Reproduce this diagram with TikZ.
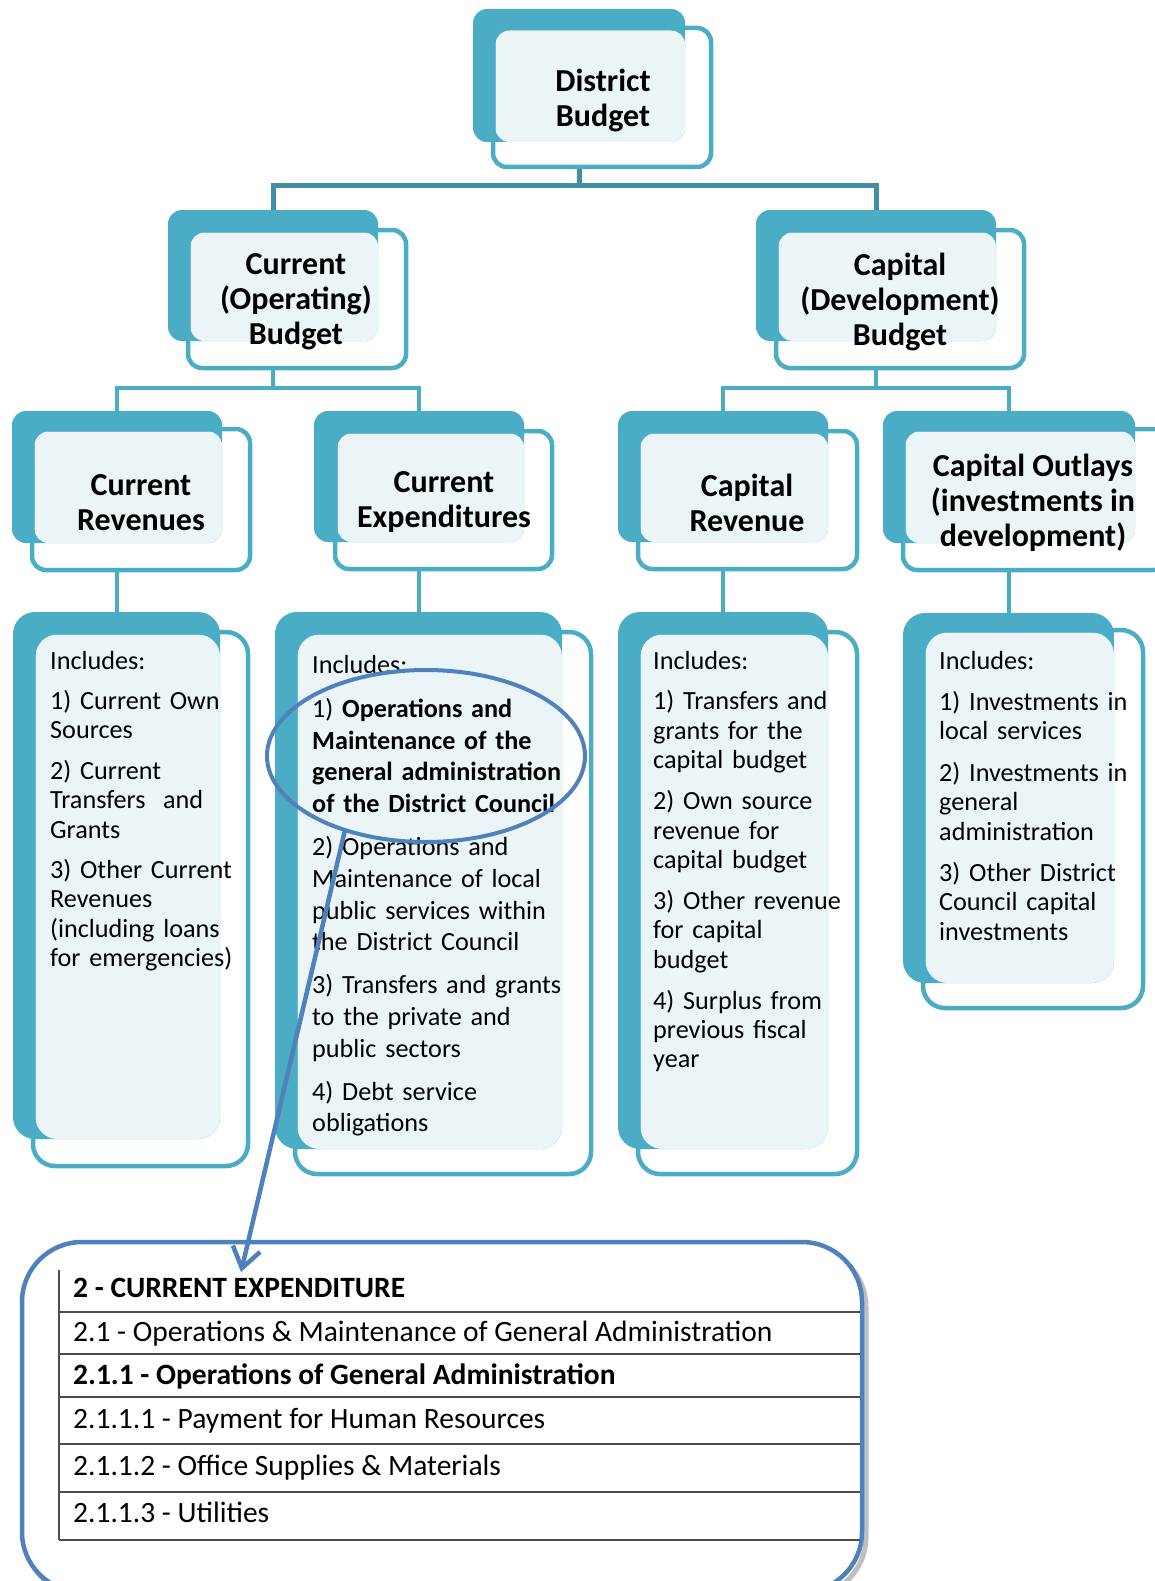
\documentclass[tikz,border=0pt]{standalone}
\usepackage{fontspec}
\setmainfont{Carlito}
\usetikzlibrary{shapes.geometric,arrows.meta,backgrounds}
\definecolor{teal1}{RGB}{75,172,198}
\definecolor{tealdk}{RGB}{64,143,164}
\definecolor{lite}{RGB}{235,245,248}
\definecolor{blu}{RGB}{79,129,189}
\def\cardr{14}
\newcommand\mycard[9]{%
  \node[backbox, minimum width={#4-#2}, minimum height={#5-#3}] (#1-b) at ({(#2+#4)/2},{(#3+#5)/2}) {};
  \fill[lite, rounded corners=\cardr] ({#6+2.5},{#7+2.5}) rectangle (#4,#5);
  \node[frontbox, minimum width={#8-#6}, minimum height={#9-#7}] (#1) at ({(#6+#8)/2},{(#7+#9)/2}) {};
}
\tikzset{
  backbox/.style={fill=teal1, rounded corners=\cardr, inner sep=0pt, draw=none},
  frontbox/.style={draw=teal1, line width=4.5pt, rounded corners=\cardr, inner sep=0pt},
  conn/.style={draw=teal1, line width=4pt},
  conntop/.style={draw=tealdk, line width=5pt},
  ttl/.style={font=\fontsize{32}{35}\selectfont\bfseries, align=center, inner sep=0pt},
  body/.style={font=\fontsize{26.2}{29.4}\selectfont, text width=320pt, align=left, inner sep=0pt, anchor=base west},
  bodyce/.style={body, font=\fontsize{26.2}{31.8}\selectfont},
  rowtxt/.style={font=\fontsize{29.5}{34}\selectfont, inner sep=0pt, anchor=base west},
  tline/.style={draw=black!70, line width=2pt},
}
\begin{document}
\begin{tikzpicture}[x=1pt,y=-1pt]
\useasboundingbox (0,0) rectangle (1155,1581);

% level 1 and 2
\mycard{db}{473}{9}{685}{142}{493}{28}{711}{167}
\mycard{cob}{168}{210}{378}{341}{188}{230}{406}{368}
\mycard{cdb}{756}{210}{996}{341}{776}{230}{1024}{368}
% level 3
\mycard{cr}{12}{411}{222}{543}{32}{429}{250}{570}
\mycard{ce}{314}{411}{524}{542}{335}{431}{552}{569}
\mycard{caprev}{618}{411}{828}{542}{638}{431}{857}{569}
\mycard{co}{883}{411}{1135}{543}{903}{429}{1168}{570}
% level 4
\def\cardr{22}
\mycard{crc}{13}{612}{220}{1139}{33}{632}{248}{1166}
\mycard{cec}{275}{612}{562}{1149}{295}{632}{591}{1174}
\mycard{caprc}{618}{612}{828}{1149}{638}{632}{857}{1174}
\mycard{coc}{903}{613}{1114}{983}{923}{630}{1143}{1008}

% connectors
\coordinate (y1) at (0,186);
\coordinate (y2) at (0,388);
\begin{pgfonlayer}{background}
\draw[conntop] (db-b.south |- db.south) -- (db-b.south |- y1);
\draw[conntop] (cob-b.north) |- (y1 -| cdb-b.north) -- (cdb-b.north);
\draw[conn] (cob-b.south |- cob.south) -- (cob-b.south |- y2);
\draw[conn] (cr-b.north) |- (y2 -| ce-b.north) -- (ce-b.north);
\draw[conn] (cdb-b.south |- cdb.south) -- (cdb-b.south |- y2);
\draw[conn] (caprev-b.north) |- (y2 -| co-b.north) -- (co-b.north);
\draw[conn] (cr-b.south |- cr.south) -- (cr-b.south |- crc-b.north);
\draw[conn] (ce-b.south |- ce.south) -- (ce-b.south |- cec-b.north);
\draw[conn] (caprev-b.south |- caprev.south) -- (caprev-b.south |- caprc-b.north);
\draw[conn] (co-b.south |- co.south) -- (co-b.south |- coc-b.north);
\end{pgfonlayer}

% titles
\node[ttl] (db-t) at (603,100.5) {District\\Budget};
\node[ttl] (cob-t) at (296,301.5) {Current\\(Operating)\\Budget};
\node[ttl] (cdb-t) at (900,301.5) {Capital\\(Development)\\Budget};
\node[ttl] (cr-t) at (141,502.5) {Current\\Revenues};
\node[ttl] (ce-t) at (444,502.5) {Current\\Expenditures};
\node[ttl] (caprev-t) at (747,502.5) {Capital\\Revenue};
\node[ttl] (co-t) at (1033,502.5) {Capital Outlays\\(investments in\\development)};

% body texts
\node[body] (crc-t) at (50,669) {Includes:\\[11pt]1) Current Own\\Sources\\[11pt]2) Current\\Transfers~ and\\Grants\\[11pt]3) Other Current\\Revenues\\(including loans\\for emergencies)};
\node[bodyce] (cec-t) at (312,673) {Includes:\\[12.5pt]1) \textbf{Operations and}\\\textbf{Maintenance of the}\\\textbf{general administration}\\\textbf{of the District Council}\\[11pt]2) Operations and\\Maintenance of local\\public services within\\the District Council\\[11pt]3) Transfers and grants\\to the private and\\public sectors\\[11pt]4) Debt service\\obligations};
\node[body] (caprc-t) at (653,669) {Includes:\\[11.5pt]1) Transfers and\\grants for the\\capital budget\\[11.5pt]2) Own source\\revenue for\\capital budget\\[11.5pt]3) Other revenue\\for capital\\budget\\[11.5pt]4) Surplus from\\previous fiscal\\year};
\node[body] (coc-t) at (939,669) {Includes:\\[12pt]1) Investments in\\local services\\[12pt]2) Investments in\\general\\administration\\[12pt]3) Other District\\Council capital\\investments};

% highlight ellipse
\node[ellipse, draw=blu, line width=4pt, minimum width=318, minimum height=172, inner sep=0pt] (hl) at (426,756) {};

% bottom table box
\draw[black!25, line width=5pt, rounded corners=60] (26,1247) rectangle (866,1597);
\node[draw=blu, fill=white, line width=4.5pt, rounded corners=60, minimum width=840, minimum height=350, inner sep=0pt] (tbl) at (442,1417) {};
\draw[tline] (59,1270) -- (59,1540);
\foreach \yy in {1312,1354,1397,1444,1492,1540} \draw[tline] (59,\yy) -- (860,\yy);
\node[rowtxt, font=\fontsize{29.5}{34}\selectfont\bfseries] (r1) at (73,1297) {2 - CURRENT EXPENDITURE};
\node[rowtxt] (r2) at (73,1341) {2.1 - Operations \& Maintenance of General Administration};
\node[rowtxt, font=\fontsize{29.5}{34}\selectfont\bfseries] (r3) at (73,1384) {2.1.1 - Operations of General Administration};
\node[rowtxt] (r4) at (73,1428) {2.1.1.1 - Payment for Human Resources};
\node[rowtxt] (r5) at (73,1475) {2.1.1.2 - Office Supplies \& Materials};
\node[rowtxt] (r6) at (73,1522) {2.1.1.3 - Utilities};

% arrow
\coordinate (tip) at (241,1272);
\draw[blu, line width=4.5pt, line cap=round, -{Straight Barb[length=20pt,width=28pt]}] (hl.223) -- (tip);
\end{tikzpicture}
\end{document}
